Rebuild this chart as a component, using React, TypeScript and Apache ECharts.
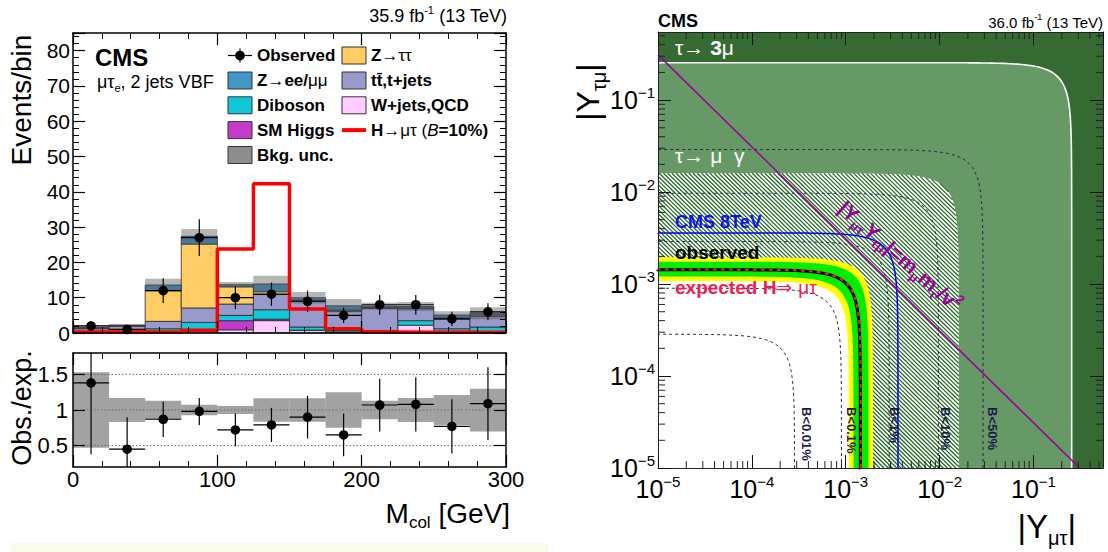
import React, { useEffect, useRef } from "react";
import * as echarts from "echarts";

const FONT = '"Liberation Sans", Arial, Helvetica, sans-serif';

// ---------------- Left: M_col distribution (mu tau_e, 2 jets VBF) ----------------
const binEdges = [0, 25, 50, 75, 100, 125, 150, 175, 200, 225, 250, 275, 300];
const wjetsQCD = [0.3, 0.2, 0.3, 0.4, 0.9, 3.5, 0.7, 0.3, 0.3, 2.2, 0.4, 0.4];
const smHiggs = [0.0, 0.0, 0.1, 0.6, 2.6, 0.4, 0.1, 0.0, 0.0, 0.0, 0.0, 0.0];
const diboson = [0.1, 0.1, 0.8, 2.0, 1.5, 2.7, 0.9, 0.4, 0.4, 1.3, 0.8, 1.3];
const ttbarTop = [0.9, 1.6, 2.1, 4.1, 3.2, 4.3, 7.3, 5.5, 6.3, 3.4, 2.8, 3.0];
const zTauTau = [0.1, 0.2, 8.7, 18.1, 4.9, 0.8, 0.3, 0.3, 0.2, 0.2, 0.3, 0.4];
const zEeMuMu = [0.1, 0.1, 1.6, 2.2, 0.6, 2.2, 0.7, 1.2, 0.4, 0.4, 0.8, 0.5];
const bkgUncFraction = [0.53, 0.17, 0.13, 0.075, 0.055, 0.165, 0.165, 0.25, 0.13, 0.17, 0.21, 0.3];
const observedEvents = [2, 1, 12, 27, 10, 11, 9, 5, 8, 8, 4, 6];
const observedErrors = [1.4, 1.0, 3.5, 5.2, 3.2, 3.3, 3.0, 2.2, 2.8, 2.8, 2.0, 2.4];
const signalHMuTau = [0.3, 0.3, 0.3, 0.8, 23.8, 42.3, 6.8, 1.2, 0.3, 0.2, 0.2, 0.2];
const ratioObsExp = [1.38, 0.45, 0.87, 0.98, 0.72, 0.79, 0.9, 0.65, 1.07, 1.08, 0.77, 1.09];
const ratioErrors = [1.0, 0.45, 0.25, 0.19, 0.23, 0.24, 0.3, 0.3, 0.37, 0.38, 0.38, 0.51];
const ratioRefLines = [0.5, 1, 1.5];
const ratioTickValues = [0.5, 1, 1.5];

const MAIN_YMAX = 85;
const RATIO_MIN = 0.2;
const RATIO_MAX = 1.8;

const COLORS = {
  wj: "#FFCCFF",
  higgs: "#C43BCB",
  diboson: "#12C8D8",
  tt: "#9999CC",
  ztt: "#FFCC66",
  zll: "#4496C8",
};

const stackComponents = [
  { name: "W+jets,QCD", values: wjetsQCD, color: COLORS.wj },
  { name: "SM Higgs", values: smHiggs, color: COLORS.higgs },
  { name: "Diboson", values: diboson, color: COLORS.diboson },
  { name: "tt,t+jets", values: ttbarTop, color: COLORS.tt },
  { name: "Z→ττ", values: zTauTau, color: COLORS.ztt },
  { name: "Z→ee/μμ", values: zEeMuMu, color: COLORS.zll },
];

// ---------------- Right: Yukawa coupling limits ----------------
const AXIS_MIN = 1e-5;
const AXIS_MAX = 0.55;
const logDecades = [-5, -4, -3, -2, -1];
const minorMultipliers = [2, 3, 4, 5, 6, 7, 8, 9];
const tau3MuBound = 0.255;
const hatchedBound = 0.016;
const branchingContours = [
  { label: "B<0.01%", r: 2.85e-4 },
  { label: "B<0.1%", r: 9.0e-4 },
  { label: "B<1%", r: 2.9e-3 },
  { label: "B<10%", r: 9.7e-3 },
  { label: "B<50%", r: 2.9e-2 },
];
const expected2Sigma = [1.08e-3, 1.95e-3];
const expected1Sigma = [1.21e-3, 1.75e-3];
const expectedLimit = 1.44e-3;
const observedLimit = 1.43e-3;
const cms8TeVLimit = 3.6e-3;
const naturalnessProduct = 3.1e-6;
const HATCH_STEP = 0.045;

function quarterCircle(r: number) {
  const pts: number[][] = [];
  for (let t = -7; t <= 7.0001; t += 0.04) {
    const th = Math.atan(Math.pow(10, t));
    pts.push([Math.max(r * Math.cos(th), AXIS_MIN), Math.max(r * Math.sin(th), AXIS_MIN)]);
  }
  return pts;
}

function logLabel(v: number) {
  const e = Math.round(Math.log10(v));
  return "10{s|" + (e < 0 ? "\u2212" + Math.abs(e) : String(e)) + "}";
}

function buildOption() {
  const nBins = binEdges.length - 1;
  const centers = binEdges.slice(0, -1).map((e, i) => (e + binEdges[i + 1]) / 2);

  // stacked background
  const cumulative = new Array(nBins).fill(0);
  const stackSeries = stackComponents.map((comp, ci) => {
    const data = comp.values.map((v, i) => {
      const y0 = cumulative[i];
      const y1 = y0 + v;
      cumulative[i] = y1;
      return [binEdges[i], binEdges[i + 1], y0, y1];
    });
    return {
      type: "custom",
      name: comp.name,
      xAxisIndex: 0,
      yAxisIndex: 0,
      z: 2,
      encode: { x: [0, 1], y: [2, 3] },
      data,
      renderItem: (params: any, api: any) => {
        const y0 = api.value(2);
        const y1 = Math.min(api.value(3), MAIN_YMAX);
        if (y1 - y0 <= 0) return { type: "group", children: [] };
        const a = api.coord([api.value(0), y1]);
        const b = api.coord([api.value(1), y0]);
        return {
          type: "rect",
          shape: { x: a[0], y: a[1], width: b[0] - a[0], height: b[1] - a[1] },
          style: { fill: comp.color, stroke: "#2a2a2a", lineWidth: 0.8 },
          z2: ci,
        };
      },
    };
  });
  const totals = cumulative.slice();

  const uncData = totals.map((t, i) => [
    binEdges[i],
    binEdges[i + 1],
    t * (1 - bkgUncFraction[i]),
    t * (1 + bkgUncFraction[i]),
  ]);

  const rectRender = (fill: string, yMin: number, yMax: number) => (params: any, api: any) => {
    const y0 = Math.max(api.value(2), yMin);
    const y1 = Math.min(api.value(3), yMax);
    const a = api.coord([api.value(0), y1]);
    const b = api.coord([api.value(1), y0]);
    return {
      type: "rect",
      shape: { x: a[0], y: a[1], width: b[0] - a[0], height: b[1] - a[1] },
      style: { fill },
    };
  };

  const pointRender = (yMin: number, yMax: number) => (params: any, api: any) => {
    const x = api.value(0);
    const y = api.value(1);
    const e = api.value(2);
    const c = api.coord([x, y]);
    const top = api.coord([x, Math.min(y + e, yMax)]);
    const bot = api.coord([x, Math.max(y - e, yMin)]);
    const l = api.coord([api.value(3), y]);
    const r = api.coord([api.value(4), y]);
    return {
      type: "group",
      children: [
        { type: "line", shape: { x1: c[0], y1: top[1], x2: c[0], y2: bot[1] }, style: { stroke: "#000", lineWidth: 1.2 } },
        { type: "line", shape: { x1: l[0], y1: c[1], x2: r[0], y2: c[1] }, style: { stroke: "#000", lineWidth: 1.2 } },
        { type: "circle", shape: { cx: c[0], cy: c[1], r: 4.8 }, style: { fill: "#000" } },
      ],
    };
  };

  const obsData = centers.map((c, i) => [c, observedEvents[i], observedErrors[i], binEdges[i], binEdges[i + 1]]);
  const ratioData = centers.map((c, i) => [c, ratioObsExp[i], ratioErrors[i], binEdges[i], binEdges[i + 1]]);
  const ratioBandData = bkgUncFraction.map((f, i) => [binEdges[i], binEdges[i + 1], 1 - f, 1 + f]);
  const signalData = binEdges.map((e, i) => [e, signalHMuTau[Math.min(i, nBins - 1)]]);

  // ---------- right panel series ----------
  const fillLayers = [
    { r: tau3MuBound, color: "#679966" },
    { r: hatchedBound, color: "#ffffff" },
  ];
  const bandLayers = [
    { r: expected2Sigma[1], color: "#ffff00" },
    { r: expected1Sigma[1], color: "#00ee00" },
    { r: expected1Sigma[0], color: "#ffff00" },
    { r: expected2Sigma[0], color: "#ffffff" },
  ];
  const curveLayers: any[] = [
    { r: tau3MuBound, color: "#ffffff", width: 1.6 },
    ...branchingContours.map((b) => ({ r: b.r, color: "#26264f", width: 1, dash: [3, 3] })),
    { r: cms8TeVLimit, color: "#0000ff", width: 1.5 },
    { r: observedLimit, color: "#000000", width: 3 },
    { r: expectedLimit, color: "#ff1a1a", width: 2.2, dash: [4, 4] },
  ];

  const regionSeries = (layers: any[], z: number) => ({
    type: "custom",
    xAxisIndex: 4,
    yAxisIndex: 4,
    z,
    silent: true,
    data: layers.map((l) => [l.r, l.r]),
    renderItem: (params: any, api: any) => {
      const layer = layers[params.dataIndex];
      const pts = [[AXIS_MIN, AXIS_MIN], ...quarterCircle(layer.r)].map((p) => api.coord(p));
      return { type: "polygon", shape: { points: pts }, style: { fill: layer.color }, z2: params.dataIndex };
    },
  });

  const hatchSeries = {
    type: "custom",
    xAxisIndex: 4,
    yAxisIndex: 4,
    z: 2,
    silent: true,
    data: [[hatchedBound, hatchedBound]],
    renderItem: (params: any, api: any) => {
      const children: any[] = [];
      const R = hatchedBound * hatchedBound;
      const lmin = Math.log10(AXIS_MIN);
      const cMax = 2 * Math.log10(hatchedBound / Math.SQRT2);
      for (let c = 2 * lmin + HATCH_STEP / 2; c < cMax; c += HATCH_STEP) {
        const K = Math.pow(10, 2 * c);
        const disc = R * R - 4 * K;
        if (disc <= 0) continue;
        const a2 = (R + Math.sqrt(disc)) / 2;
        const a1 = K / a2;
        const u1 = Math.max(0.5 * Math.log10(a1), lmin);
        const u2 = Math.min(0.5 * Math.log10(a2), c - lmin);
        if (u2 <= u1) continue;
        const p1 = api.coord([Math.pow(10, u1), Math.pow(10, c - u1)]);
        const p2 = api.coord([Math.pow(10, u2), Math.pow(10, c - u2)]);
        children.push({
          type: "line",
          shape: { x1: p1[0], y1: p1[1], x2: p2[0], y2: p2[1] },
          style: { stroke: "#1f661f", lineWidth: 1.2 },
        });
      }
      return { type: "group", children };
    },
  };

  const curveSeries = {
    type: "custom",
    xAxisIndex: 4,
    yAxisIndex: 4,
    z: 4,
    silent: true,
    data: curveLayers.map((l) => [l.r, l.r]),
    renderItem: (params: any, api: any) => {
      const layer = curveLayers[params.dataIndex];
      const pts = quarterCircle(layer.r).map((p) => api.coord(p));
      return {
        type: "polyline",
        shape: { points: pts },
        style: { stroke: layer.color, lineWidth: layer.width, fill: "none", lineDash: layer.dash || null },
        z2: params.dataIndex,
      };
    },
  };

  const minorVals: number[] = [];
  logDecades.forEach((d) =>
    minorMultipliers.forEach((k) => {
      const v = k * Math.pow(10, d);
      if (v < AXIS_MAX) minorVals.push(v);
    })
  );
  const minorTickSeries = {
    type: "custom",
    xAxisIndex: 4,
    yAxisIndex: 4,
    z: 11,
    silent: true,
    data: minorVals.map((v) => [v, v]),
    renderItem: (params: any, api: any) => {
      const v = api.value(0);
      const b = api.coord([v, AXIS_MIN]);
      const t = api.coord([v, AXIS_MAX]);
      const l = api.coord([AXIS_MIN, v]);
      const r = api.coord([AXIS_MAX, v]);
      const st = { stroke: "#222", lineWidth: 1 };
      const L = 7;
      return {
        type: "group",
        children: [
          { type: "line", shape: { x1: b[0], y1: b[1], x2: b[0], y2: b[1] - L }, style: st },
          { type: "line", shape: { x1: t[0], y1: t[1], x2: t[0], y2: t[1] + L }, style: st },
          { type: "line", shape: { x1: l[0], y1: l[1], x2: l[0] + L, y2: l[1] }, style: st },
          { type: "line", shape: { x1: r[0], y1: r[1], x2: r[0] - L, y2: r[1] }, style: st },
        ],
      };
    },
  };

  // ---------- axes ----------
  const frameLine = { show: true, onZero: false, lineStyle: { color: "#000", width: 1.5 } };
  const majorTick = { show: true, inside: true, length: 12, lineStyle: { color: "#000", width: 1.2 } };
  const minor5 = { show: true, splitNumber: 5, length: 6, lineStyle: { color: "#000", width: 1 } };
  const noSplit = { show: false };
  const linAxis = (gridIndex: number, position: string, extra: any) => ({
    type: "value",
    gridIndex,
    position,
    axisLine: frameLine,
    axisTick: majorTick,
    minorTick: minor5,
    splitLine: noSplit,
    minorSplitLine: noSplit,
    axisLabel: { show: false },
    z: 10,
    ...extra,
  });

  const logRich = { s: { fontSize: 15, lineHeight: 15, fontFamily: FONT, color: "#000", verticalAlign: "top" } };
  const logAxis = (position: string, showLabel: boolean, isY: boolean) => ({
    type: "log",
    logBase: 10,
    gridIndex: 2,
    position,
    min: AXIS_MIN,
    max: AXIS_MAX,
    axisLine: { show: true, onZero: false, lineStyle: { color: "#222", width: 1 } },
    axisTick: { show: true, inside: true, length: 13, lineStyle: { color: "#111", width: 1 } },
    splitLine: noSplit,
    axisLabel: showLabel
      ? {
          show: true,
          formatter: logLabel,
          fontSize: 25,
          lineHeight: 30,
          fontFamily: FONT,
          color: "#000",
          margin: isY ? 3 : 6,
          showMaxLabel: false,
          rich: logRich,
        }
      : { show: false },
    z: 10,
  });

  const yLabelStyle = { fontSize: 21, fontFamily: FONT, color: "#000" };

  const xAxis = [
    linAxis(0, "bottom", { min: 0, max: 300, interval: 100 }),
    linAxis(0, "top", { min: 0, max: 300, interval: 100 }),
    linAxis(1, "bottom", {
      min: 0,
      max: 300,
      interval: 100,
      axisLabel: { show: true, fontSize: 22, fontFamily: FONT, color: "#000", margin: 1 },
    }),
    linAxis(1, "top", { min: 0, max: 300, interval: 100 }),
    logAxis("bottom", true, false),
    logAxis("top", false, false),
  ];
  const yAxis = [
    linAxis(0, "left", {
      min: 0,
      max: MAIN_YMAX,
      interval: 10,
      axisLabel: { show: true, ...yLabelStyle, margin: 3, showMaxLabel: false },
    }),
    linAxis(0, "right", { min: 0, max: MAIN_YMAX, interval: 10 }),
    linAxis(1, "left", {
      min: RATIO_MIN,
      max: RATIO_MAX,
      minorTick: { show: false },
      axisTick: { ...majorTick, customValues: ratioTickValues },
      axisLabel: { show: true, customValues: ratioTickValues, fontSize: 22, fontFamily: FONT, color: "#000", margin: 5 },
    }),
    linAxis(1, "right", {
      min: RATIO_MIN,
      max: RATIO_MAX,
      minorTick: { show: false },
      axisTick: { ...majorTick, customValues: ratioTickValues },
    }),
    logAxis("left", true, true),
    logAxis("right", false, true),
  ];

  // ---------- graphic texts / legend ----------
  const txt = (x: number, y: number, text: string, style: any, extra: any = {}) => ({
    type: "text",
    x,
    y,
    z: 50,
    silent: true,
    ...extra,
    style: { text, fontFamily: FONT, fill: "#000", verticalAlign: "middle", ...style },
  });
  const richBase = (size: number, color: string, weight = "normal") => ({
    n: { fontSize: size, lineHeight: Math.round(size * 1.3), fontFamily: FONT, fontWeight: weight, fill: color, verticalAlign: "middle" },
    b: { fontSize: size, lineHeight: Math.round(size * 1.3), fontFamily: FONT, fontWeight: "bold", fill: color, verticalAlign: "middle" },
    g: { fontSize: size, lineHeight: Math.round(size * 1.3), fontFamily: FONT, fontWeight: "normal", fill: color, verticalAlign: "middle" },
    a: { fontSize: size, lineHeight: Math.round(size * 1.3), fontFamily: '"DejaVu Sans", sans-serif', fontWeight: "normal", fill: color, verticalAlign: "middle" },
    i: { fontSize: size, lineHeight: Math.round(size * 1.3), fontFamily: FONT, fontWeight: "normal", fontStyle: "italic", fill: color, verticalAlign: "middle" },
    sub: { fontSize: Math.round(size * 0.62), lineHeight: Math.round(size * 0.62), fontFamily: FONT, fontWeight: weight, fill: color, verticalAlign: "bottom" },
    sup: { fontSize: Math.round(size * 0.62), lineHeight: Math.round(size * 0.62), fontFamily: FONT, fontWeight: weight, fill: color, verticalAlign: "top" },
  });

  const legendColX = [228, 342];
  const legendRowY = [55.5, 80.5, 105.3, 130.1, 155];
  const legendEntries = [
    { col: 0, row: 0, kind: "marker", text: "{b|Observed}" },
    { col: 0, row: 1, kind: "box", color: COLORS.zll, text: "{b|Z}{g|→}{b|ee/}{g|μμ}" },
    { col: 0, row: 2, kind: "box", color: COLORS.diboson, text: "{b|Diboson}" },
    { col: 0, row: 3, kind: "box", color: COLORS.higgs, text: "{b|SM Higgs}" },
    { col: 0, row: 4, kind: "box", color: "#8e8e8e", text: "{b|Bkg. unc.}" },
    { col: 1, row: 0, kind: "box", color: COLORS.ztt, text: "{b|Z}{g|→ττ}" },
    { col: 1, row: 1, kind: "box", color: COLORS.tt, text: "{b|tt\u0304,t+jets}" },
    { col: 1, row: 2, kind: "box", color: COLORS.wj, text: "{b|W+jets,QCD}" },
    { col: 1, row: 3, kind: "line", color: "#ff0000", text: "{b|H}{g|→μτ (}{i|B}{b|=10%)}" },
  ];
  const legendEls: any[] = [];
  legendEntries.forEach((e) => {
    const x = legendColX[e.col];
    const y = legendRowY[e.row];
    if (e.kind === "box") {
      legendEls.push({
        type: "rect",
        z: 50,
        shape: { x, y: y - 8.5, width: 24, height: 17 },
        style: { fill: e.color, stroke: "#333", lineWidth: 1 },
      });
    } else if (e.kind === "marker") {
      legendEls.push(
        { type: "line", z: 50, shape: { x1: x, y1: y, x2: x + 24, y2: y }, style: { stroke: "#000", lineWidth: 1.2 } },
        { type: "line", z: 50, shape: { x1: x + 12, y1: y - 7, x2: x + 12, y2: y + 7 }, style: { stroke: "#000", lineWidth: 1.2 } },
        { type: "circle", z: 50, shape: { cx: x + 12, cy: y, r: 4.8 }, style: { fill: "#000" } }
      );
    } else {
      legendEls.push({ type: "line", z: 50, shape: { x1: x, y1: y, x2: x + 24, y2: y }, style: { stroke: e.color, lineWidth: 4 } });
    }
    legendEls.push(txt(x + 29, y, e.text, { fontSize: 17, rich: richBase(17, "#000") }));
  });

  const purple = "#990099";
  const graphicEls: any[] = [
    { type: "rect", z: 0, shape: { x: 10, y: 543, width: 538, height: 9 }, style: { fill: "#f9fbec" } },
    // left panel
    txt(507, 16, "{n|35.9 fb}{sup|-1}{n| (13 TeV)}", { align: "right", fontSize: 18, rich: richBase(18, "#000") }),
    txt(95, 57, "CMS", { fontSize: 24, fontWeight: "bold" }),
    txt(97, 82, "{n|μτ}{sub|e}{n|, 2 jets VBF}", { fontSize: 18, rich: richBase(18, "#000") }),
    txt(21, 100, "Events/bin", { fontSize: 28, align: "center" }, { rotation: Math.PI / 2 }),
    txt(22, 408, "Obs./exp.", { fontSize: 27, align: "center" }, { rotation: Math.PI / 2 }),
    txt(510, 513, "{n|M}{sub|col}{n| [GeV]}", { fontSize: 28, align: "right", rich: richBase(28, "#000") }),
    ...legendEls,
    // right panel
    txt(658, 21, "CMS", { fontSize: 18, fontWeight: "bold" }),
    txt(1103, 22, "{n|36.0 fb}{sup|-1}{n| (13 TeV)}", { align: "right", fontSize: 15, rich: richBase(15, "#000") }),
    txt(675, 47, "{n|τ→ }{b|3}{n|μ}", { fontSize: 21, rich: richBase(21, "#ffffff") }),
    txt(675, 155, "{n|τ→ μ  γ}", { fontSize: 21, rich: richBase(21, "#ffffff") }),
    txt(675, 222, "CMS 8TeV", { fontSize: 18, fontWeight: "bold", fill: "#1010ee" }),
    txt(675, 252, "observed", { fontSize: 19, fontWeight: "bold", fill: "#000" }),
    txt(675, 287, "{b|expected H}{a|⇒ }{g|μτ}", { fontSize: 19, rich: richBase(19, "#f01e50") }),
    ...branchingContours.map((b, i) =>
      txt([806, 851, 894, 945, 992][i], 407, b.label, { fontSize: 13, fontWeight: "bold", fill: "#1a1a4a" }, { rotation: -Math.PI / 2 })
    ),
    txt(
      900,
      256,
      "{b||Y}{sub|μτ}{b|Y}{sub|τμ}{b||=m}{sub|μ}{b|m}{sub|τ}{b|/v}{sup|2}",
      { fontSize: 21, align: "center", rich: richBase(21, purple, "bold") },
      { rotation: -0.72 }
    ),
    txt(588, 92, "{n||Y}{sub|τμ}{n||}", { fontSize: 32, align: "center", rich: richBase(32, "#000") }, { rotation: Math.PI / 2 }),
    txt(1076, 526, "{n||Y}{sub|μτ}{n||}", { fontSize: 33, align: "right", rich: richBase(33, "#000") }),
  ];

  return {
    animation: false,
    backgroundColor: "#ffffff",
    grid: [
      { left: 73, top: 33, width: 433, height: 300, outerBoundsMode: "none" },
      { left: 73, top: 353, width: 433, height: 114, outerBoundsMode: "none" },
      { left: 658, top: 32, width: 445, height: 436, show: true, backgroundColor: "#356a33", borderWidth: 0, outerBoundsMode: "none" },
    ],
    xAxis,
    yAxis,
    series: [
      ...stackSeries,
      {
        type: "custom",
        name: "Bkg. unc.",
        xAxisIndex: 0,
        yAxisIndex: 0,
        z: 3,
        encode: { x: [0, 1], y: [2, 3] },
        data: uncData,
        renderItem: rectRender("rgba(80,80,80,0.42)", 0, MAIN_YMAX),
      },
      {
        type: "line",
        name: "H→μτ",
        xAxisIndex: 0,
        yAxisIndex: 0,
        z: 4,
        step: "end",
        symbol: "none",
        data: signalData,
        lineStyle: { color: "#ff0000", width: 3.5 },
      },
      {
        type: "custom",
        name: "Observed",
        xAxisIndex: 0,
        yAxisIndex: 0,
        z: 5,
        encode: { x: [0, 3, 4], y: [1] },
        data: obsData,
        renderItem: pointRender(0, MAIN_YMAX),
      },
      {
        type: "custom",
        name: "ratio-ref",
        xAxisIndex: 2,
        yAxisIndex: 2,
        z: 2,
        data: ratioRefLines.map((v) => [0, v]),
        renderItem: (params: any, api: any) => {
          const a = api.coord([0, api.value(1)]);
          const b = api.coord([300, api.value(1)]);
          return {
            type: "line",
            shape: { x1: a[0], y1: a[1], x2: b[0], y2: b[1] },
            style: { stroke: "#666", lineWidth: 1, lineDash: [1.5, 2] },
          };
        },
      },
      {
        type: "custom",
        name: "ratio-band",
        xAxisIndex: 2,
        yAxisIndex: 2,
        z: 3,
        encode: { x: [0, 1], y: [2, 3] },
        data: ratioBandData,
        renderItem: rectRender("rgba(105,105,105,0.62)", RATIO_MIN, RATIO_MAX),
      },
      {
        type: "custom",
        name: "ratio",
        xAxisIndex: 2,
        yAxisIndex: 2,
        z: 5,
        encode: { x: [0, 3, 4], y: [1] },
        data: ratioData,
        renderItem: pointRender(RATIO_MIN, RATIO_MAX),
      },
      regionSeries(fillLayers, 1),
      hatchSeries,
      regionSeries(bandLayers, 3),
      curveSeries,
      {
        type: "line",
        name: "naturalness",
        xAxisIndex: 4,
        yAxisIndex: 4,
        z: 5,
        symbol: "none",
        silent: true,
        data: [
          [AXIS_MIN, naturalnessProduct / AXIS_MIN],
          [naturalnessProduct / AXIS_MIN, AXIS_MIN],
        ],
        lineStyle: { color: purple, width: 1.5 },
      },
      minorTickSeries,
    ],
    graphic: { elements: graphicEls },
  };
}

export default function App() {
  const ref = useRef<HTMLDivElement>(null);
  useEffect(() => {
    const chart = echarts.init(ref.current as HTMLDivElement, null, { renderer: "svg" });
    chart.setOption(buildOption() as any);
    return () => chart.dispose();
  }, []);
  return (
    <div
      ref={ref}
      style={{ position: "absolute", left: 0, top: 0, width: 1108, height: 552, background: "#fff" }}
    />
  );
}
